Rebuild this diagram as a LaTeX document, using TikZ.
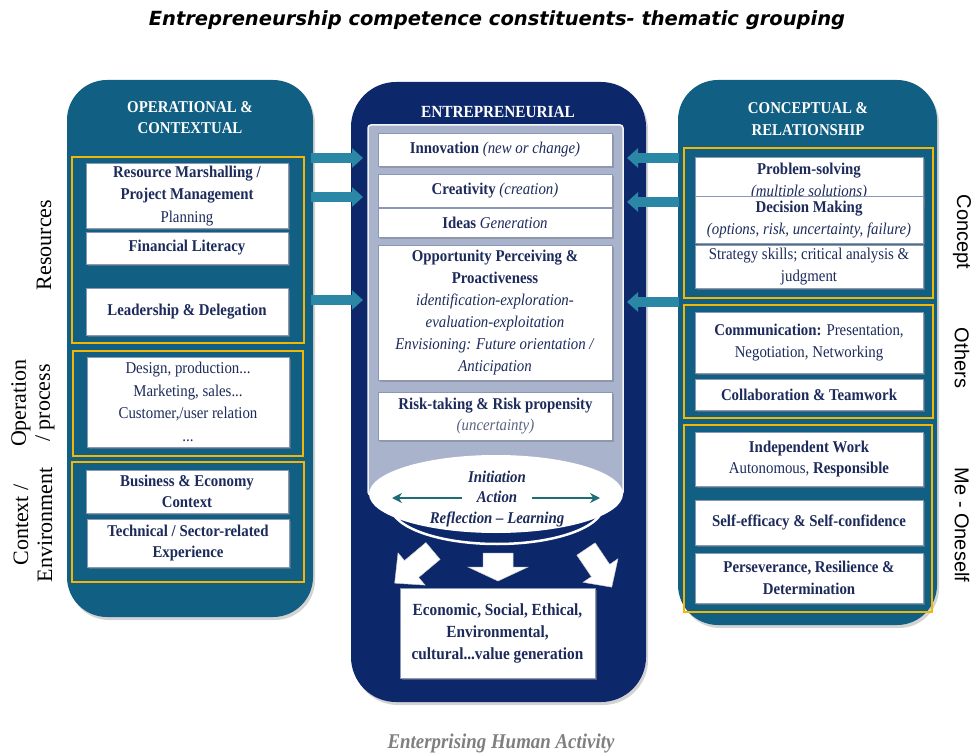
\documentclass[tikz,border=0pt]{standalone}
\usepackage{fontspec}
\setmainfont{Liberation Serif}[FakeStretch=0.9]
\newfontfamily\labserif{Liberation Serif}
\newfontfamily\labsans{Liberation Sans}
\newfontfamily\titlefont{DejaVu Sans}
\usetikzlibrary{shapes.geometric,shadows,arrows.meta}
\definecolor{pteal}{HTML}{115F82}
\definecolor{pnavy}{HTML}{0D286A}
\definecolor{plight}{HTML}{A9B3CC}
\definecolor{gold}{HTML}{F2B705}
\definecolor{btext}{HTML}{1D2B5B}
\definecolor{boxedge}{HTML}{8A98B8}
\definecolor{arrteal}{HTML}{2A87A6}
\definecolor{ellarr}{HTML}{1E6E78}
\definecolor{capgray}{HTML}{7F7F7F}
\definecolor{softgray}{HTML}{5A6482}
\begin{document}
\begin{tikzpicture}[x=1pt,y=-1pt,
  panel/.style={rounded corners=40pt, inner sep=0pt, draw=none,
    drop shadow={shadow xshift=2pt, shadow yshift=-3pt, opacity=0.35}},
  grp/.style={draw=gold, line width=1.6pt, inner sep=0pt},
  bx/.style={draw=boxedge, line width=0.6pt, fill=white, inner sep=0pt, align=center,
    text=btext, font=\fontsize{16.5}{21.5}\selectfont,
    drop shadow={shadow xshift=1.5pt, shadow yshift=-1.8pt, opacity=0.55}},
  hdr/.style={text=white, align=center, font=\fontsize{16.5}{21}\selectfont\bfseries},
  conn/.style={line width=10pt, arrteal, -{Triangle[width=19pt,length=11pt]}},
  sidel/.style={align=center, font=\labserif\fontsize{22}{24}\selectfont, rotate=90},
  sider/.style={align=center, font=\labsans\fontsize{20}{24}\selectfont, rotate=-90},
  barrow/.style={fill=white, draw=gray!40, line width=0.5pt}
]
\useasboundingbox (0,0) rectangle (975,754);

% title
\node[font=\titlefont\fontsize{19.5}{22}\selectfont\bfseries\itshape] (title) at (497,20)
  {Entrepreneurship competence constituents- thematic grouping};

% panels
\node[panel, fill=pteal, minimum width=246pt, minimum height=537pt] (lp) at (190,348.5) {};
\node[panel, fill=pteal, minimum width=259pt, minimum height=545pt] (rp) at (807.5,352.5) {};
\node[panel, fill=pnavy, minimum width=295pt, minimum height=620pt, rounded corners=45pt] (mp) at (498.5,392) {};

% headers
\node[hdr] (lh) at (190,118) {OPERATIONAL \&\\CONTEXTUAL};
\node[hdr, font=\fontsize{17}{22}\selectfont\bfseries] (mh) at (498,112) {ENTREPRENEURIAL};
\node[hdr, font=\fontsize{16.5}{22}\selectfont\bfseries] (rh) at (808,119) {CONCEPTUAL \&\\RELATIONSHIP};

% inner light panel of the middle column
\node[draw=white!85!plight, line width=1.5pt, fill=plight, minimum width=255pt, minimum height=370pt,
  inner sep=0pt, rounded corners=3pt] (ip) at (495.5,310) {};

% yellow groups
\node[grp, minimum width=232pt, minimum height=186pt] (lg1) at (188,250) {};
\node[grp, minimum width=230pt, minimum height=105pt] (lg2) at (188,403.5) {};
\node[grp, minimum width=232pt, minimum height=120pt] (lg3) at (188,522) {};
\node[grp, minimum width=249pt, minimum height=150pt] (rg1) at (808.5,223) {};
\node[grp, minimum width=249pt, minimum height=113pt] (rg2) at (808.5,361.5) {};
\node[grp, minimum width=248pt, minimum height=187pt] (rg3) at (808,518.5) {};

% left boxes
\node[bx, minimum width=202pt, minimum height=65pt, font=\fontsize{16.5}{22.5}\selectfont] (rm) at (187,196)
  {\textbf{Resource Marshalling /}\\\textbf{Project Management}\\Planning};
\node[bx, minimum width=202pt, minimum height=32pt] (fl) at (187,248) {\textbf{Financial Literacy}};
\node[bx, minimum width=202pt, minimum height=47pt] (ld) at (187,311.5) {\textbf{Leadership \& Delegation}};
\node[bx, minimum width=202pt, minimum height=90pt, font=\fontsize{16.5}{22.5}\selectfont] (ds) at (188,402)
  {Design, production...\\Marketing, sales...\\Customer,/user relation\\...};
\node[bx, minimum width=202pt, minimum height=43pt] (be) at (187,491.5) {\textbf{Business \& Economy}\\\textbf{Context}};
\node[bx, minimum width=202pt, minimum height=48pt] (ts) at (188,543) {\textbf{Technical / Sector-related}\\\textbf{Experience}};

% middle boxes
\node[bx, minimum width=234pt, minimum height=33pt] (inn) at (495,149.5) {\textbf{Innovation} \textit{(new or change)}};
\node[bx, minimum width=234pt, minimum height=33pt] (cre) at (495,190.5) {\textbf{Creativity} \textit{(creation)}};
\node[bx, minimum width=234pt, minimum height=29pt] (ide) at (495,222.5) {\textbf{Ideas} \textit{Generation}};
\node[bx, minimum width=234pt, minimum height=135pt, font=\fontsize{16.5}{22}\selectfont] (opp) at (495,312.5)
  {\textbf{Opportunity Perceiving \&}\\\textbf{Proactiveness}\\\textit{identification-exploration-}\\
   \textit{evaluation-exploitation}\\\textit{Envisioning: Future orientation /}\\\textit{Anticipation}};
\node[bx, minimum width=234pt, minimum height=48pt] (rsk) at (495.5,416)
  {\textbf{Risk-taking \& Risk propensity}\\\textcolor{softgray}{\textit{(uncertainty)}}};

% ellipse
\node[ellipse, draw=white, line width=2.5pt, minimum width=212pt, minimum height=76pt] (elsh) at (497,506) {};
\node[ellipse, fill=white, inner sep=0pt, minimum width=254pt, minimum height=78pt] (el) at (496,494) {};
\node[text=btext, align=center, font=\fontsize{16.5}{20.5}\selectfont\bfseries\itshape] (eltx) at (497,499)
  {Initiation\\Action\\Reflection -- Learning};
\coordinate (ea1) at (462,498);
\coordinate (ea2) at (392,498);
\coordinate (ea3) at (532,498);
\coordinate (ea4) at (600,498);
\draw[ellarr, line width=2.2pt, -{Stealth[length=10pt,width=10pt]}] (ea1) -- (ea2);
\draw[ellarr, line width=2.2pt, -{Stealth[length=10pt,width=10pt]}] (ea3) -- (ea4);

% block arrows from the ellipse
\begin{scope}[shift={(498,553)}, rotate=-90]
  \path[barrow] (0,-15) -- (14,-15) -- (14,-30) -- (28,0) -- (14,30) -- (14,15) -- (0,15) -- cycle;
\end{scope}
\begin{scope}[shift={(433,551)}, rotate=220]
  \path[barrow] (0,-11) -- (28,-11) -- (28,-21) -- (50,0) -- (28,21) -- (28,11) -- (0,11) -- cycle;
\end{scope}
\begin{scope}[shift={(586,549)}, rotate=-56]
  \path[barrow] (0,-11) -- (26,-11) -- (26,-21) -- (46,0) -- (26,21) -- (26,11) -- (0,11) -- cycle;
\end{scope}

% value box
\node[bx, minimum width=195pt, minimum height=90pt, font=\fontsize{17}{22}\selectfont\bfseries] (val) at (497.5,633)
  {Economic, Social, Ethical,\\Environmental,\\cultural...value generation};

% right boxes
\node[bx, minimum width=228pt, minimum height=48pt] (ps) at (809,181.5)
  {\textbf{Problem-solving}\\\textit{(multiple solutions)}};
\node[bx, minimum width=228pt, minimum height=47pt] (dm) at (809,219.5)
  {\textbf{Decision Making}\\\textit{(options, risk, uncertainty, failure)}};
\node[bx, minimum width=228pt, minimum height=43pt] (st) at (809,266.5)
  {Strategy skills; critical analysis \&\\judgment};
\node[bx, minimum width=228pt, minimum height=61pt] (cm) at (809,342.5)
  {\textbf{Communication:} Presentation,\\Negotiation, Networking};
\node[bx, minimum width=228pt, minimum height=31pt] (cl) at (809,394.5) {\textbf{Collaboration \& Teamwork}};
\node[bx, minimum width=228pt, minimum height=54pt] (iw) at (809,459)
  {\textbf{Independent Work}\\Autonomous, \textbf{Responsible}};
\node[bx, minimum width=228pt, minimum height=45pt] (se) at (809,522.5) {\textbf{Self-efficacy \& Self-confidence}};
\node[bx, minimum width=228pt, minimum height=50pt] (pv) at (809,578)
  {\textbf{Perseverance, Resilience \&}\\\textbf{Determination}};

% connectors between the columns
\coordinate (l1a) at (311,158); \coordinate (l1b) at (363,158);
\coordinate (l2a) at (311,197); \coordinate (l2b) at (363,197);
\coordinate (l3a) at (311,300); \coordinate (l3b) at (363,300);
\coordinate (r1a) at (679,158); \coordinate (r1b) at (627,158);
\coordinate (r2a) at (679,202); \coordinate (r2b) at (627,202);
\coordinate (r3a) at (679,302); \coordinate (r3b) at (627,302);
\foreach \a/\b in {l1a/l1b,l2a/l2b,l3a/l3b,r1a/r1b,r2a/r2b,r3a/r3b}{
  \draw[conn] (\a) -- (\b);
}

% side labels
\node[sidel] (sres) at (44,245) {Resources};
\node[sidel] (sop) at (33,403) {Operation\\/ process};
\node[sidel] (sctx) at (33,525) {Context /\\Environment};
\node[sider] (rcon) at (962,232) {Concept};
\node[sider] (roth) at (962,358) {Others};
\node[sider] (rme) at (962,525) {Me - Oneself};

% caption
\node[font=\fontsize{21}{24}\selectfont\bfseries\itshape, text=capgray] (cap) at (501,743) {Enterprising Human Activity};
\end{tikzpicture}
\end{document}
